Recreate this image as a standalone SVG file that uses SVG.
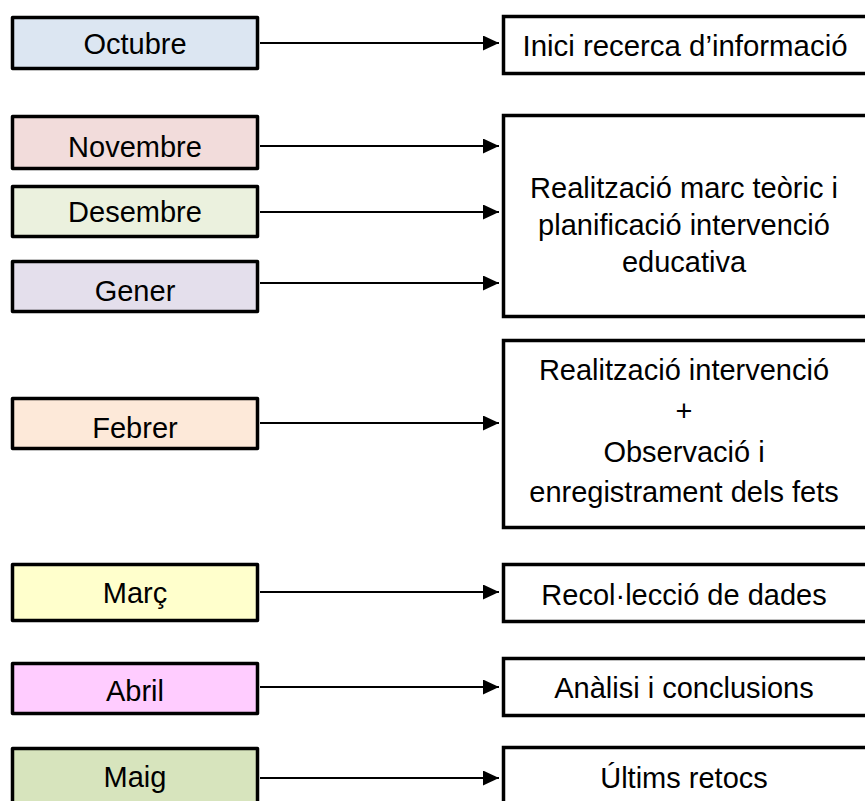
<svg xmlns="http://www.w3.org/2000/svg" width="865" height="801" viewBox="0 0 865 801">
<style>
.lb{stroke:#000;stroke-width:3.5;stroke-linejoin:round}
.rb{fill:#fff;stroke:#000;stroke-width:3.5}
text{font-family:"Liberation Sans",Arial,sans-serif;font-size:29px;fill:#000;text-anchor:middle}
.c{stroke:#000;stroke-width:2;fill:none;marker-end:url(#ah)}
</style>
<defs>
<marker id="ah" markerWidth="16" markerHeight="15" refX="16" refY="7.5" orient="auto" markerUnits="userSpaceOnUse">
<path d="M0,0 L16,7.5 L0,15 z" fill="#000"/>
</marker>
</defs>
<rect width="865" height="801" fill="#fff"/>
<g id="connectors">
<line class="c" x1="260" y1="43" x2="499" y2="43"/>
<line class="c" x1="260" y1="146" x2="499" y2="146"/>
<line class="c" x1="260" y1="212" x2="499" y2="212"/>
<line class="c" x1="260" y1="283" x2="499" y2="283"/>
<line class="c" x1="260" y1="423" x2="499" y2="423"/>
<line class="c" x1="260" y1="592" x2="499" y2="592"/>
<line class="c" x1="260" y1="687" x2="499" y2="687"/>
<line class="c" x1="260" y1="778" x2="499" y2="778"/>
</g>
<g id="octubre"><rect class="lb" x="12.5" y="17.5" width="245" height="51" fill="#DCE6F2"/><text x="135" y="54">Octubre</text></g>
<g id="novembre"><rect class="lb" x="12.5" y="116.5" width="245" height="52" fill="#F2DCDB"/><text x="135" y="157">Novembre</text></g>
<g id="desembre"><rect class="lb" x="12.5" y="186.5" width="245" height="50" fill="#EBF1DE"/><text x="135" y="222">Desembre</text></g>
<g id="gener"><rect class="lb" x="12.5" y="261.5" width="245" height="50" fill="#E4DFEC"/><text x="135" y="301">Gener</text></g>
<g id="febrer"><rect class="lb" x="12.5" y="398.5" width="245" height="50" fill="#FDE9D9"/><text x="135" y="438">Febrer</text></g>
<g id="marc"><rect class="lb" x="12.5" y="564.5" width="245" height="56" fill="#FFFFCC"/><text x="135" y="603">Març</text></g>
<g id="abril"><rect class="lb" x="12.5" y="663.5" width="245" height="50" fill="#FFCCFF"/><text x="135" y="701">Abril</text></g>
<g id="maig"><rect class="lb" x="12.5" y="748.5" width="245" height="70" fill="#D7E4BD"/><text x="135" y="787">Maig</text></g>
<g id="inici"><rect class="rb" x="503.5" y="16.5" width="380" height="57"/><text x="685" y="56" style="font-size:29.4px">Inici recerca d’informació</text></g>
<g id="marc-teoric"><rect class="rb" x="503.5" y="115.5" width="380" height="201"/><text x="684" y="198">Realització marc teòric i</text><text x="684" y="235">planificació intervenció</text><text x="684" y="272">educativa</text></g>
<g id="intervencio"><rect class="rb" x="503.5" y="340.5" width="380" height="187"/><text x="684" y="380">Realització intervenció</text><text x="684" y="421">+</text><text x="684" y="462">Observació i</text><text x="684" y="502">enregistrament dels fets</text></g>
<g id="recollecio"><rect class="rb" x="503.5" y="564.5" width="380" height="57"/><text x="684" y="605">Recol·lecció de dades</text></g>
<g id="analisi"><rect class="rb" x="503.5" y="658.5" width="380" height="57"/><text x="684" y="698">Anàlisi i conclusions</text></g>
<g id="ultims"><rect class="rb" x="503.5" y="747.5" width="380" height="100"/><text x="684" y="788">Últims retocs</text></g>
</svg>
